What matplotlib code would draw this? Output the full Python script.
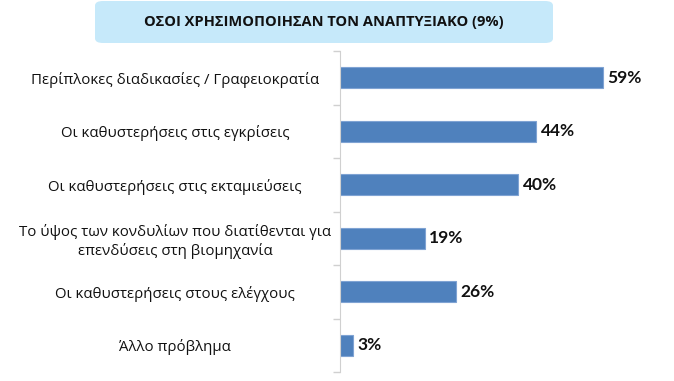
import numpy as np
import matplotlib.pyplot as plt
from matplotlib.patches import FancyBboxPatch

# data (top to bottom)
labels = ['Περίπλοκες διαδικασίες / Γραφειοκρατία',
          'Οι καθυστερήσεις στις εγκρίσεις',
          'Οι καθυστερήσεις στις εκταμιεύσεις',
          'Το ύψος των κονδυλίων που διατίθενται για\nεπενδύσεις στη βιομηχανία',
          'Οι καθυστερήσεις στους ελέγχους',
          'Άλλο πρόβλημα']
values = [59, 44, 40, 19, 26, 3]
title = 'ΟΣΟΙ ΧΡΗΣΙΜΟΠΟΙΗΣΑΝ ΤΟΝ ΑΝΑΠΤΥΞΙΑΚΟ (9%)'

plt.rcParams['font.family'] = ['Open Sans', 'DejaVu Sans']

fig = plt.figure(figsize=(6.74, 3.81), dpi=100)
ax = fig.add_axes([340/674, 9/381, 320/674, 321/381])

y = np.arange(len(values))
ax.barh(y, values, height=0.4, color='#4f81bd', edgecolor='#7fa3d3', linewidth=0.8)
ax.set_ylim(len(values) - 0.5, -0.5)
ax.set_xlim(0, 320/4.46)

# value labels: Lato bold digits are close to the original's look
for yi, v in zip(y, values):
    ax.text(v + 1, yi, f'{v}%', va='center', ha='left', fontsize=12.5,
            fontweight='bold', family=['Lato', 'DejaVu Sans'], color='#111111')

ax.set_yticks(y)
ax.set_yticklabels(labels, fontsize=10.8, color='#111111', ha='center',
                   linespacing=1.25)
# centre of label block ~165 px left of the axis line
ax.tick_params(axis='y', length=0, pad=165*0.72)
ax.set_yticks(np.arange(len(values) + 1) - 0.5, minor=True)
ax.tick_params(axis='y', which='minor', length=5, color='#d0d0d0', width=1)
ax.set_xticks([])
for s in ['top', 'right', 'bottom']:
    ax.spines[s].set_visible(False)
ax.spines['left'].set_color('#d0d0d0')

# title box
box = FancyBboxPatch((95/674, 338/381), 458/674, 42/381,
                     boxstyle='round,pad=0,rounding_size=0.012',
                     transform=fig.transFigure, facecolor='#c6e9fa',
                     edgecolor='none')
fig.patches.append(box)
fig.text(324/674, 359/381, title, ha='center', va='center', fontsize=10.5,
         fontweight='bold', color='#111111')

fig.savefig('out.png', dpi=100)
